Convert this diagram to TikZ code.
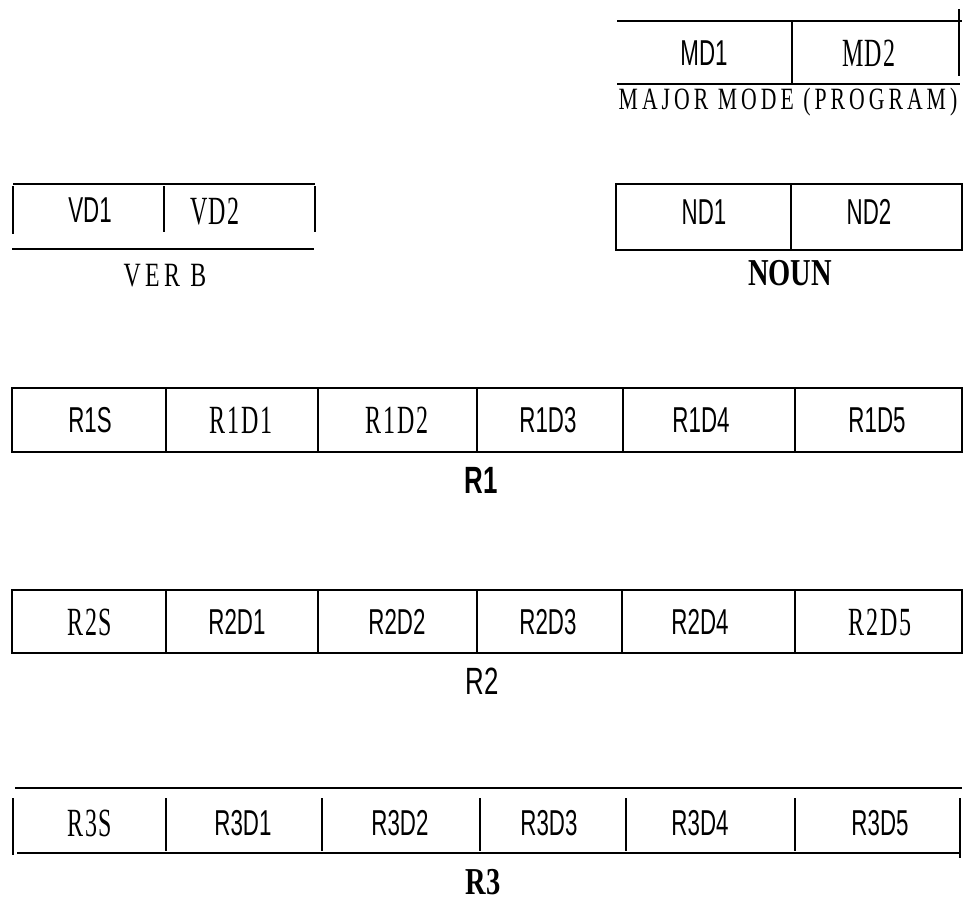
\documentclass[tikz,border=0pt]{standalone}
\usepackage{fontspec}
\setmainfont{Liberation Serif}
\newfontfamily\cellsansfont[FakeStretch=0.62]{Liberation Sans}
\newfontfamily\cellseriffont[FakeStretch=0.6,LetterSpace=4]{Liberation Serif}
\newfontfamily\labelseriffont[FakeStretch=0.7,LetterSpace=13]{Liberation Serif}
\newfontfamily\labelboldfont[FakeStretch=0.75]{Liberation Serif}
\newfontfamily\labelsansfont[FakeStretch=0.68]{Liberation Sans}
\usepackage{tikz}
\tikzset{
  reg-line/.style={line width=2.6pt},
  reg-div/.style={line width=2pt},
  cell-sans/.style={inner sep=0pt,font=\cellsansfont\fontsize{36}{40}\selectfont},
  cell-serif/.style={inner sep=0pt,font=\cellseriffont\fontsize{40}{44}\selectfont},
  reg-name/.style={inner sep=0pt,font=\labelseriffont\fontsize{31}{35}\selectfont},
  reg-name-bold/.style={inner sep=0pt,font=\labelboldfont\bfseries\fontsize{38}{42}\selectfont},
  reg-name-sans/.style={inner sep=0pt,font=\labelsansfont\fontsize{38}{42}\selectfont},
}

\begin{document}
\begin{tikzpicture}[x=1pt,y=-1pt]
  \useasboundingbox (0,0) rectangle (969,903);
  % major mode
  \draw[reg-line] (617,21) -- (962,21) (617,84) -- (960,84);
  \draw[reg-div] (792,21) -- (792,84);
  \draw[reg-line] (959,9) -- (959,76);
  \node[cell-sans] (md1) at (704,53) {MD1};
  \node[cell-serif] (md2) at (869,53) {MD2};
  \node[reg-name] (major) at (788,102) {MAJOR MODE (PROGRAM)};
  % verb
  \draw[reg-line] (13,184) -- (315,184) (12,249) -- (314,249);
  \draw[reg-div] (13,186) -- (13,234) (315,186) -- (315,232) (164,186) -- (164,232);
  \node[cell-sans] (vd1) at (90,210) {VD1};
  \node[cell-serif] (vd2) at (215,212) {VD2};
  \node[reg-name,font=\labelseriffont\fontsize{34}{38}\selectfont] (verb) at (165,276) {VER B};
  % noun
  \draw[reg-div] (616,184) rectangle (962,250) (791,184) -- (791,250);
  \node[cell-sans] (nd1) at (704,212) {ND1};
  \node[cell-sans] (nd2) at (869,212) {ND2};
  \node[reg-name-bold] (noun) at (790,273) {NOUN};
  % R1
  \draw[reg-line] (12,388) rectangle (962,452);
  \foreach \x in {166,318,477,623,795} \draw[reg-div] (\x,388) -- (\x,452);
  \node[cell-sans] (r1s) at (90,420) {R1S};
  \node[cell-serif] (r1d1) at (241,420) {R1D1};
  \node[cell-serif] (r1d2) at (397,420) {R1D2};
  \node[cell-sans] (r1d3) at (548,420) {R1D3};
  \node[cell-sans] (r1d4) at (701,420) {R1D4};
  \node[cell-sans] (r1d5) at (877,420) {R1D5};
  \node[reg-name-sans,font=\labelsansfont\bfseries\fontsize{38}{42}\selectfont] (r1) at (481,480) {R1};
  % R2
  \draw[reg-line] (12,590) rectangle (962,653);
  \foreach \x in {166,318,477,622,795} \draw[reg-div] (\x,590) -- (\x,653);
  \node[cell-serif] (r2s) at (90,622) {R2S};
  \node[cell-sans] (r2d1) at (237,622) {R2D1};
  \node[cell-sans] (r2d2) at (397,622) {R2D2};
  \node[cell-sans] (r2d3) at (548,622) {R2D3};
  \node[cell-sans] (r2d4) at (700,622) {R2D4};
  \node[cell-serif] (r2d5) at (880,622) {R2D5};
  \node[reg-name-sans] (r2) at (482,681) {R2};
  % R3
  \draw[reg-line] (15,788) -- (962,788) (17,853) -- (960,853);
  \draw[reg-div] (13,798) -- (13,855) (960,798) -- (960,858);
  \foreach \x in {166,322,480,626,795} \draw[reg-div] (\x,798) -- (\x,851);
  \node[cell-serif] (r3s) at (90,823) {R3S};
  \node[cell-sans] (r3d1) at (243,823) {R3D1};
  \node[cell-sans] (r3d2) at (400,823) {R3D2};
  \node[cell-sans] (r3d3) at (549,823) {R3D3};
  \node[cell-sans] (r3d4) at (700,823) {R3D4};
  \node[cell-sans] (r3d5) at (880,823) {R3D5};
  \node[reg-name-bold] (r3) at (483,882) {R3};
\end{tikzpicture}
\end{document}
